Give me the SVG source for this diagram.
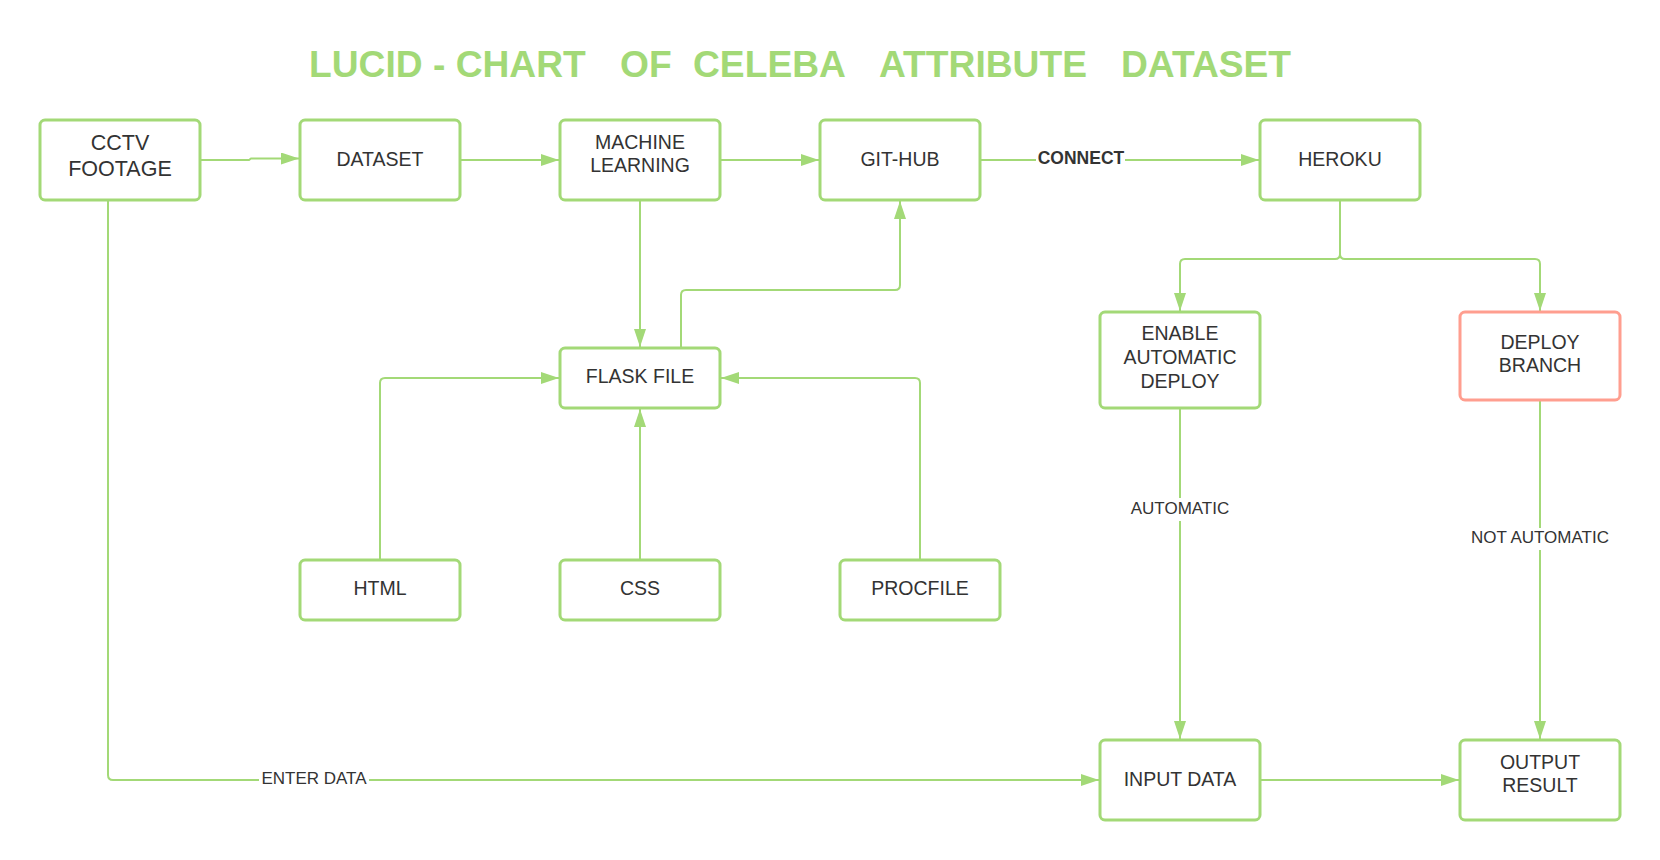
<svg xmlns="http://www.w3.org/2000/svg" width="1660" height="860" viewBox="0 0 1660 860">
<style>
.box{fill:#ffffff;stroke:#a3d977;stroke-width:3}
.red{stroke:#ff9e8f}
.t{font-family:"Liberation Sans",Arial,sans-serif;font-size:19.5px;fill:#333333;text-anchor:middle}
.big{font-size:21.5px}
.c{fill:none;stroke:#a3d977;stroke-width:2}
.lbl{font-family:"Liberation Sans",Arial,sans-serif;font-size:17px;fill:#333333;text-anchor:middle}
.bold{font-weight:bold;font-size:17.5px}
.title{font-family:"Liberation Sans",Arial,sans-serif;font-size:37.2px;font-weight:bold;fill:#a3d977}
</style>
<defs>
<marker id="ah" markerUnits="userSpaceOnUse" markerWidth="18" markerHeight="12" refX="18" refY="6" orient="auto">
<path d="M0,0 L18,6 L0,12 z" fill="#a3d977"/>
</marker>
</defs>
<rect width="1660" height="860" fill="#ffffff"/>
<g id="title">
<text class="title" y="77"><tspan x="309">LUCID - CHART</tspan><tspan x="620">OF</tspan><tspan x="693">CELEBA</tspan><tspan x="879">ATTRIBUTE</tspan><tspan x="1121">DATASET</tspan></text>
</g>
<g id="connectors">
<path class="c" marker-end="url(#ah)" d="M200,160 H249 L251,158.5 H299"/>
<path class="c" marker-end="url(#ah)" d="M460,160 H559"/>
<path class="c" marker-end="url(#ah)" d="M720,160 H819"/>
<path class="c" marker-end="url(#ah)" d="M980,160 H1259"/>
<path class="c" marker-end="url(#ah)" d="M640,200 V347"/>
<path class="c" marker-end="url(#ah)" d="M681,348 V295 Q681,290 686,290 H895 Q900,290 900,285 V201"/>
<path class="c" marker-end="url(#ah)" d="M380,560 V383 Q380,378 385,378 H559"/>
<path class="c" marker-end="url(#ah)" d="M640,560 V409"/>
<path class="c" marker-end="url(#ah)" d="M920,560 V383 Q920,378 915,378 H721"/>
<path class="c" marker-end="url(#ah)" d="M1340,200 V254 Q1340,259 1335,259 H1185 Q1180,259 1180,264 V311"/>
<path class="c" marker-end="url(#ah)" d="M1340,200 V254 Q1340,259 1345,259 H1535 Q1540,259 1540,264 V311"/>
<path class="c" marker-end="url(#ah)" d="M1180,408 V739"/>
<path class="c" marker-end="url(#ah)" d="M1540,400 V739"/>
<path class="c" marker-end="url(#ah)" d="M108,200 V775 Q108,780 113,780 H1099"/>
<path class="c" marker-end="url(#ah)" d="M1260,780 H1459"/>
<rect x="1036" y="150" width="89" height="18" fill="#ffffff"/>
<text class="lbl bold" x="1081" y="164">CONNECT</text>
<rect x="1128" y="498" width="104" height="23" fill="#ffffff"/>
<text class="lbl" x="1180" y="514">AUTOMATIC</text>
<rect x="1466" y="528" width="148" height="22" fill="#ffffff"/>
<text class="lbl" x="1540" y="543">NOT AUTOMATIC</text>
<rect x="259" y="770" width="110" height="18" fill="#ffffff"/>
<text class="lbl" x="314" y="784">ENTER DATA</text>
</g>
<g id="cctv"><rect class="box" x="40" y="120" width="160" height="80" rx="5"/><text class="t big" x="120" y="150">CCTV</text><text class="t big" x="120" y="176">FOOTAGE</text></g>
<g id="dataset"><rect class="box" x="300" y="120" width="160" height="80" rx="5"/><text class="t" x="380" y="166">DATASET</text></g>
<g id="ml"><rect class="box" x="560" y="120" width="160" height="80" rx="5"/><text class="t" x="640" y="149">MACHINE</text><text class="t" x="640" y="172">LEARNING</text></g>
<g id="github"><rect class="box" x="820" y="120" width="160" height="80" rx="5"/><text class="t" x="900" y="166">GIT-HUB</text></g>
<g id="heroku"><rect class="box" x="1260" y="120" width="160" height="80" rx="5"/><text class="t" x="1340" y="166">HEROKU</text></g>
<g id="flask"><rect class="box" x="560" y="348" width="160" height="60" rx="5"/><text class="t" x="640" y="383">FLASK FILE</text></g>
<g id="enable"><rect class="box" x="1100" y="312" width="160" height="96" rx="5"/><text class="t" x="1180" y="340">ENABLE</text><text class="t" x="1180" y="364">AUTOMATIC</text><text class="t" x="1180" y="388">DEPLOY</text></g>
<g id="deploybranch"><rect class="box red" x="1460" y="312" width="160" height="88" rx="5"/><text class="t" x="1540" y="349">DEPLOY</text><text class="t" x="1540" y="372">BRANCH</text></g>
<g id="html"><rect class="box" x="300" y="560" width="160" height="60" rx="5"/><text class="t" x="380" y="595">HTML</text></g>
<g id="css"><rect class="box" x="560" y="560" width="160" height="60" rx="5"/><text class="t" x="640" y="595">CSS</text></g>
<g id="procfile"><rect class="box" x="840" y="560" width="160" height="60" rx="5"/><text class="t" x="920" y="595">PROCFILE</text></g>
<g id="input"><rect class="box" x="1100" y="740" width="160" height="80" rx="5"/><text class="t" x="1180" y="786">INPUT DATA</text></g>
<g id="output"><rect class="box" x="1460" y="740" width="160" height="80" rx="5"/><text class="t" x="1540" y="769">OUTPUT</text><text class="t" x="1540" y="792">RESULT</text></g>
</svg>
